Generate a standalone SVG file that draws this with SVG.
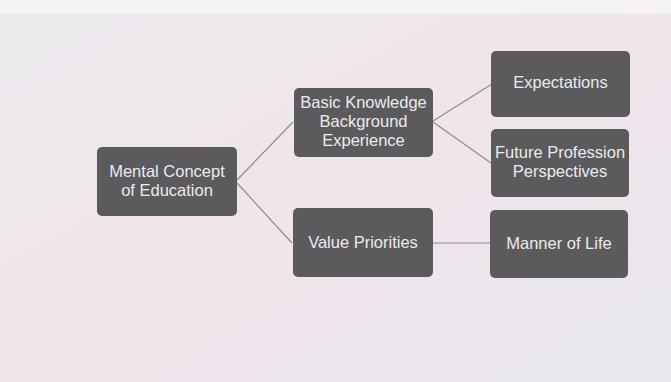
<svg xmlns="http://www.w3.org/2000/svg" width="671" height="382" viewBox="0 0 671 382">
<defs>
<linearGradient id="bg" x1="0" y1="0" x2="1" y2="1">
<stop offset="0" stop-color="#eceaee"/>
<stop offset="0.5" stop-color="#efe5ea"/>
<stop offset="1" stop-color="#e9e7ee"/>
</linearGradient>
<style>
.node rect { fill: #5b5a5c; }
.node text { fill: #ecebec; font-family: "Liberation Sans", Arial, sans-serif; font-size: 16.5px; text-anchor: middle; }
.conn line { stroke: #908a90; stroke-width: 1.2; fill: none; }
</style>
</defs>
<rect x="0" y="0" width="671" height="382" fill="url(#bg)"/>
<rect x="0" y="0" width="671" height="14" fill="#f4f3f4"/>
<g class="conn" id="connectors">
<line x1="237" y1="180" x2="293" y2="122"/>
<line x1="237" y1="183" x2="292" y2="243"/>
<line x1="433" y1="121" x2="492" y2="84"/>
<line x1="433" y1="122" x2="491" y2="163"/>
<line x1="433" y1="243" x2="490" y2="243"/>
</g>
<g class="node" id="mental">
<rect x="97" y="147" width="140" height="69" rx="5"/>
<text x="167" y="177">Mental Concept</text>
<text x="167" y="196">of Education</text>
</g>
<g class="node" id="basic">
<rect x="294" y="88" width="139" height="69" rx="5"/>
<text x="363.5" y="108">Basic Knowledge</text>
<text x="363.5" y="127">Background</text>
<text x="363.5" y="146">Experience</text>
</g>
<g class="node" id="value">
<rect x="293" y="208" width="140" height="69" rx="5"/>
<text x="363" y="248">Value Priorities</text>
</g>
<g class="node" id="expectations">
<rect x="491" y="51" width="139" height="66" rx="5"/>
<text x="560.5" y="88">Expectations</text>
</g>
<g class="node" id="future">
<rect x="491" y="129" width="138" height="68" rx="5"/>
<text x="560" y="158">Future Profession</text>
<text x="560" y="177">Perspectives</text>
</g>
<g class="node" id="manner">
<rect x="490" y="210" width="138" height="68" rx="5"/>
<text x="559" y="249">Manner of Life</text>
</g>
</svg>
